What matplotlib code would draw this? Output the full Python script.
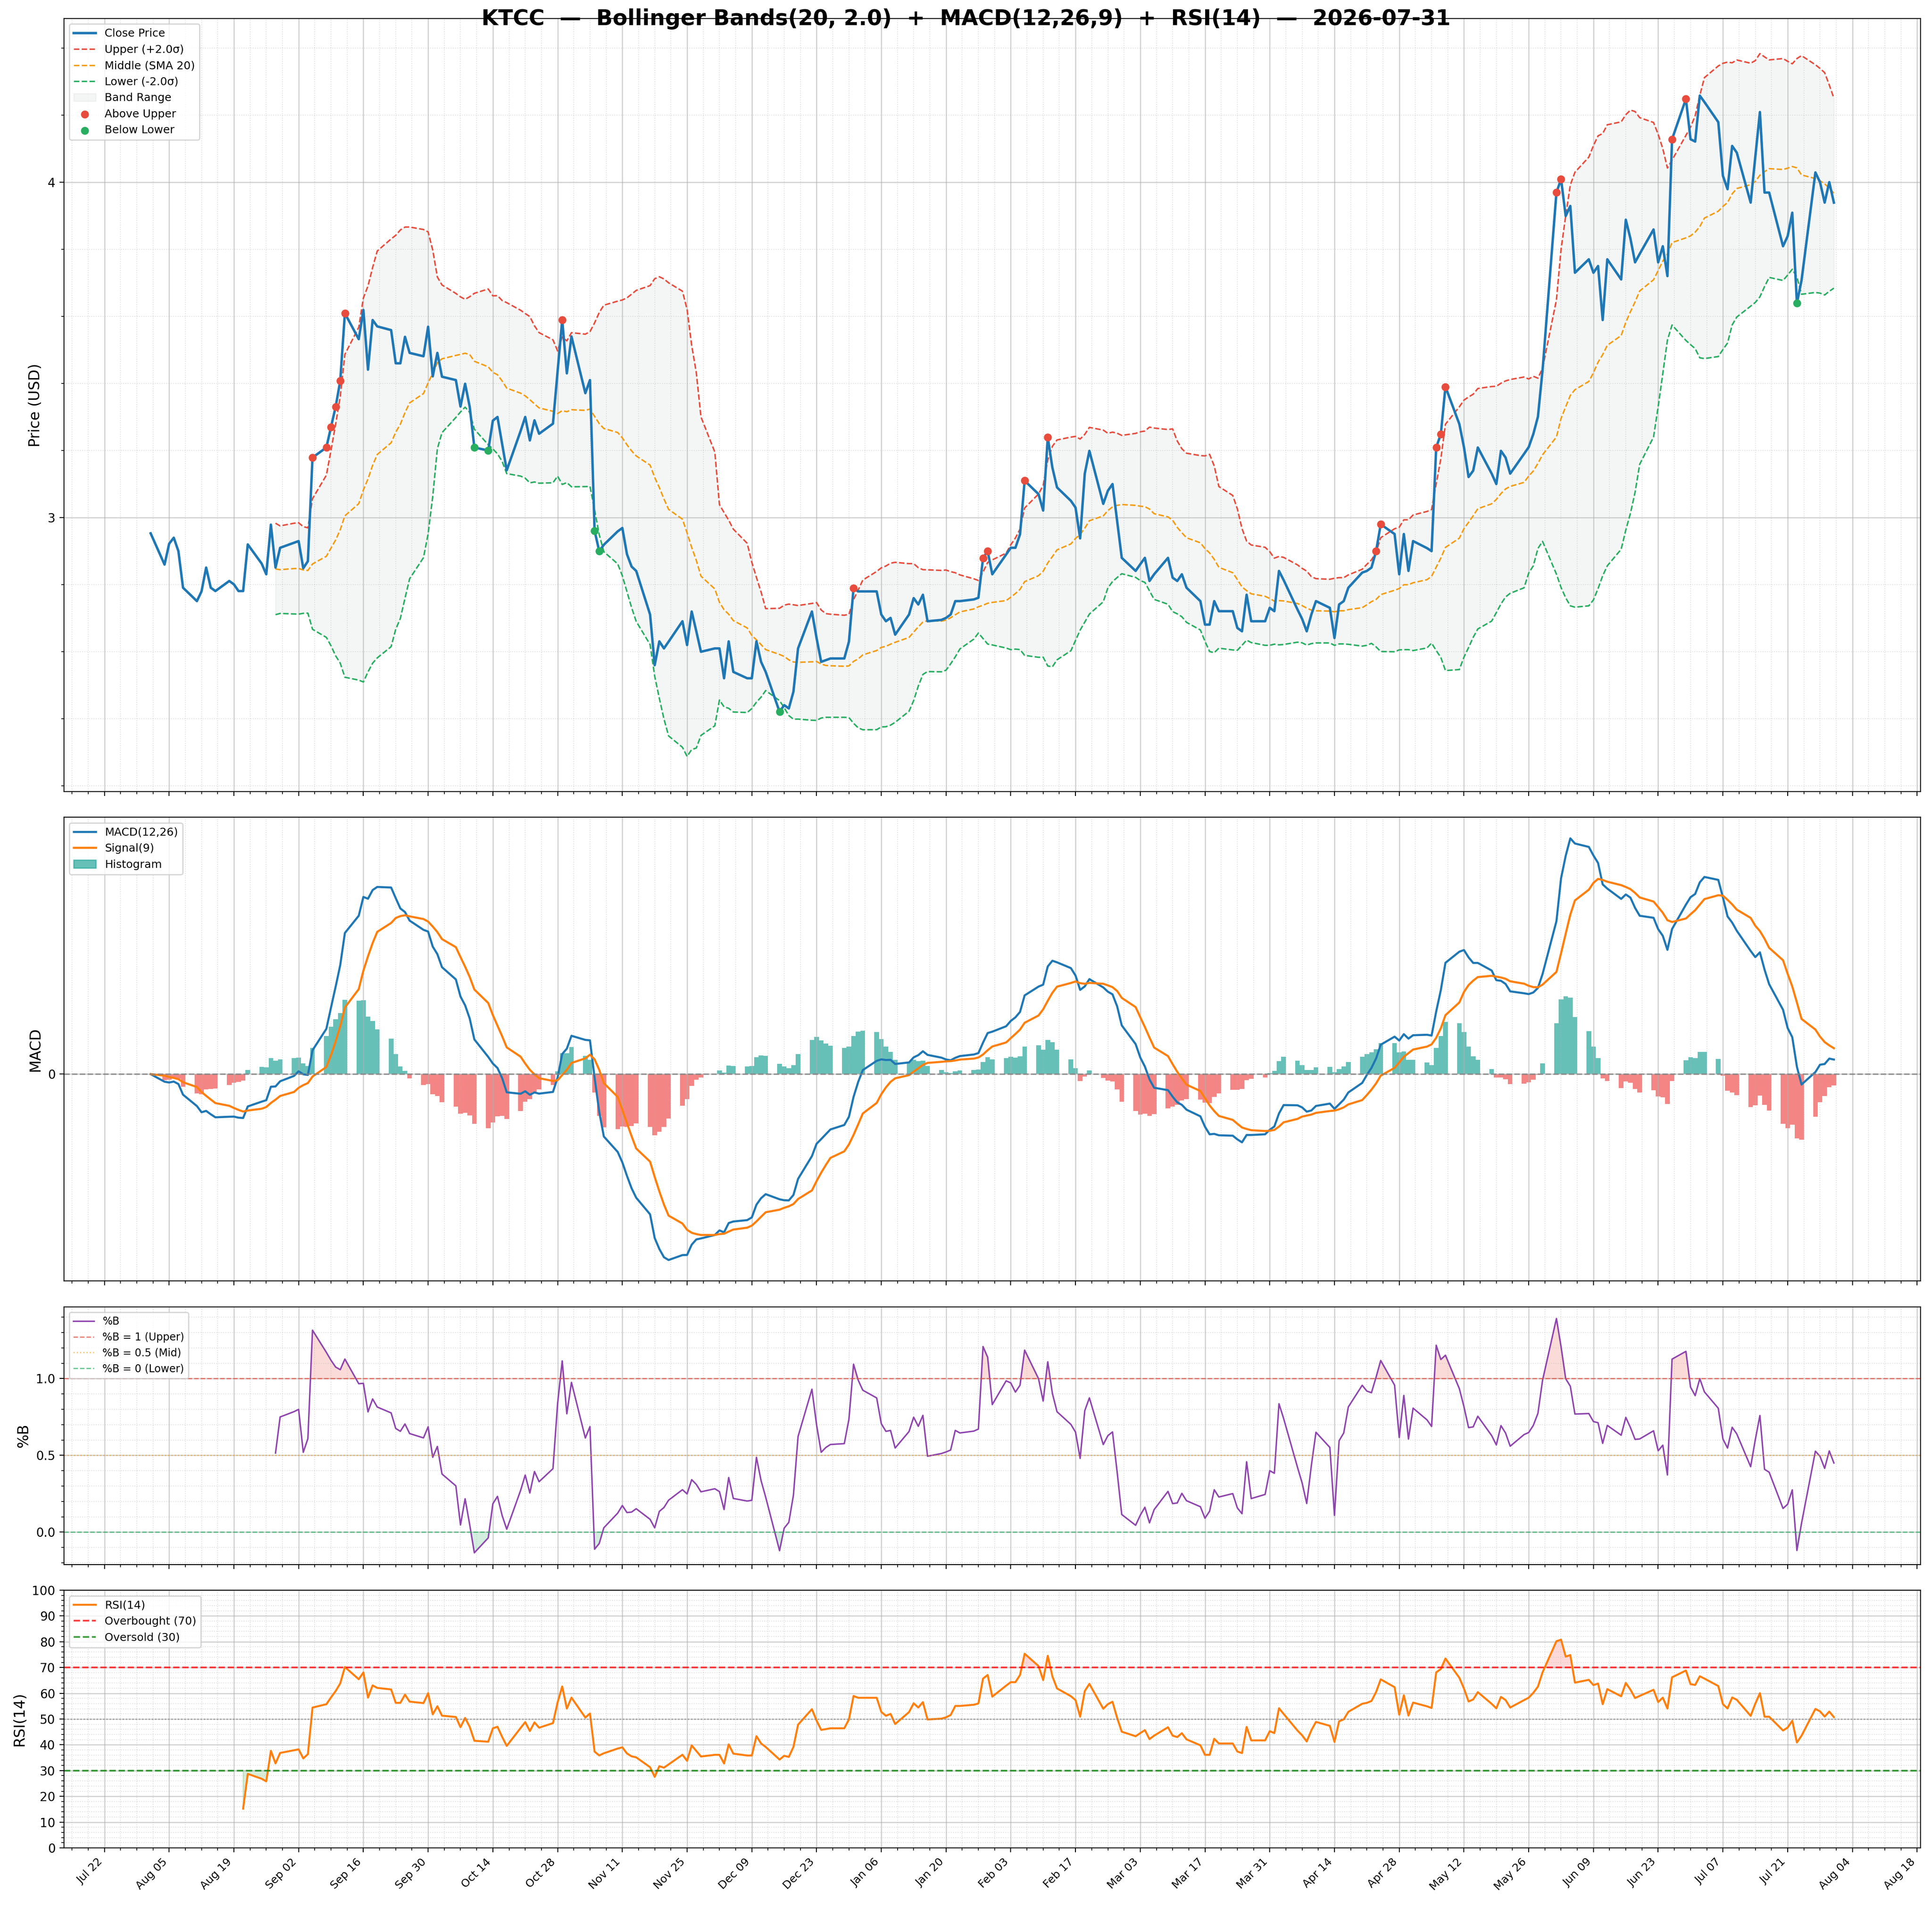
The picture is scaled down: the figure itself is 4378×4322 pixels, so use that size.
import matplotlib
matplotlib.use("Agg")
import matplotlib.pyplot as plt
import matplotlib.dates as mdates
from matplotlib.ticker import MultipleLocator, AutoMinorLocator, FixedLocator, NullLocator
from matplotlib.lines import Line2D
from matplotlib.patches import Patch
import numpy as np
import pandas as pd

# --- chart settings -------------------------------------------------------
TICKER = "KTCC"
AS_OF = "2026-07-31"
BB_WINDOW = 20
BB_K = 2.0

# daily closes (business days 2025-08-01 .. 2026-07-31)
close_prices = [
    # Aug 2025
    2.953, 2.860, 2.922, 2.940, 2.900, 2.791, 2.751, 2.780, 2.851, 2.791,
    2.781, 2.811, 2.801, 2.781, 2.781, 2.920, 2.863, 2.831, 2.979, 2.851,
    2.910,
    # Sep
    2.925, 2.930, 2.849, 2.870, 3.179, 3.209, 3.270, 3.330, 3.408, 3.609,
    3.532, 3.619, 3.441, 3.589, 3.570, 3.559, 3.460, 3.460, 3.539, 3.491,
    3.481, 3.569,
    # Oct
    3.421, 3.491, 3.420, 3.410, 3.331, 3.399, 3.330, 3.209, 3.200, 3.289,
    3.300, 3.220, 3.141, 3.258, 3.300, 3.230, 3.290, 3.250, 3.280, 3.436,
    3.589, 3.430, 3.540,
    # Nov
    3.371, 3.410, 2.961, 2.900, 2.919, 2.959, 2.969, 2.891, 2.854, 2.841,
    2.711, 2.560, 2.631, 2.610, 2.630, 2.691, 2.620, 2.720, 2.661, 2.600,
    # Dec
    2.610, 2.610, 2.521, 2.631, 2.540, 2.521, 2.521, 2.631, 2.570, 2.540,
    2.421, 2.441, 2.431, 2.481, 2.610, 2.720, 2.641, 2.570, 2.575, 2.580,
    2.580, 2.630, 2.790,
    # Jan 2026
    2.780, 2.780, 2.780, 2.711, 2.691, 2.701, 2.651, 2.711, 2.760, 2.741,
    2.770, 2.691, 2.695, 2.701, 2.711, 2.751, 2.751, 2.756, 2.761, 2.879,
    2.900, 2.831,
    # Feb
    2.890, 2.910, 2.910, 2.950, 3.110, 3.070, 3.021, 3.239, 3.149, 3.090,
    3.050, 3.030, 2.938, 3.131, 3.199, 3.041, 3.080, 3.100, 2.990, 2.880,
    # Mar
    2.841, 2.861, 2.880, 2.811, 2.831, 2.880, 2.821, 2.811, 2.831, 2.791,
    2.751, 2.681, 2.681, 2.751, 2.721, 2.721, 2.671, 2.661, 2.770, 2.691,
    2.691, 2.731,
    # Apr
    2.721, 2.841, 2.814, 2.726, 2.698, 2.661, 2.711, 2.751, 2.731, 2.641,
    2.741, 2.751, 2.791, 2.836, 2.841, 2.851, 2.900, 2.980, 2.951, 2.831,
    2.951, 2.841,
    # May
    2.930, 2.909, 2.900, 3.209, 3.249, 3.390, 3.279, 3.210, 3.121, 3.140,
    3.209, 3.131, 3.100, 3.199, 3.179, 3.131, 3.190, 3.210, 3.249, 3.301,
    3.440,
    # Jun
    3.969, 4.009, 3.899, 3.929, 3.730, 3.770, 3.730, 3.750, 3.589, 3.770,
    3.710, 3.888, 3.832, 3.761, 3.786, 3.859, 3.761, 3.809, 3.720, 4.128,
    4.248, 4.128,
    # Jul
    4.121, 4.258, 4.239, 4.179, 4.019, 3.979, 4.108, 4.088, 3.939, 4.075,
    4.209, 3.969, 3.969, 3.809, 3.839, 3.909, 3.639, 3.707, 4.029, 4.000,
    3.939, 4.000, 3.939,
]
dates = pd.bdate_range("2025-08-01", "2026-07-31")
tick_dates = pd.date_range("2025-07-22", "2026-08-18", freq="14D")

# --- indicators -----------------------------------------------------------
close = pd.Series(close_prices, index=dates)
middle = close.rolling(BB_WINDOW).mean()
std = close.rolling(BB_WINDOW).std()
upper = middle + BB_K * std
lower = middle - BB_K * std
pct_b = (close - lower) / (upper - lower)

ema12 = close.ewm(span=12, adjust=False).mean()
ema26 = close.ewm(span=26, adjust=False).mean()
macd = ema12 - ema26
signal = macd.ewm(span=9, adjust=False).mean()
hist = macd - signal

delta = close.diff()
gain = delta.clip(lower=0)
loss = -delta.clip(upper=0)
avg_gain = gain.ewm(alpha=1 / 14, adjust=False, min_periods=14).mean()
avg_loss = loss.ewm(alpha=1 / 14, adjust=False, min_periods=14).mean()
rsi = 100 - 100 / (1 + avg_gain / avg_loss)

above = close > upper
below = close < lower

# --- figure ---------------------------------------------------------------
fig = plt.figure(figsize=(4378 / 200, 4322 / 200), dpi=200)
gs = fig.add_gridspec(4, 1, height_ratios=[3, 1.8, 1, 1],
                      left=0.0331, right=0.9941, top=0.9903, bottom=0.0310,
                      hspace=0.0587)
ax1 = fig.add_subplot(gs[0])
ax2 = fig.add_subplot(gs[1], sharex=ax1)
ax3 = fig.add_subplot(gs[2], sharex=ax1)
ax4 = fig.add_subplot(gs[3], sharex=ax1)

# 1. price + bands
ax1.fill_between(dates, lower, upper, color="#95a5a6", alpha=0.1, label="Band Range")
ax1.plot(dates, close, color="#1f77b4", lw=2.0, label="Close Price", zorder=4)
ax1.plot(dates, upper, color="#e74c3c", lw=1.2, ls="--", label="Upper (+2.0σ)")
ax1.plot(dates, middle, color="#f39c12", lw=1.2, ls="--", label="Middle (SMA 20)")
ax1.plot(dates, lower, color="#27ae60", lw=1.2, ls="--", label="Lower (-2.0σ)")
ax1.scatter(dates[above], close[above], color="#e74c3c", s=30, zorder=5, label="Above Upper")
ax1.scatter(dates[below], close[below], color="#27ae60", s=30, zorder=5, label="Below Lower")
ax1.set_ylabel("Price (USD)", fontsize=12)
ax1.yaxis.set_major_locator(MultipleLocator(1))
ax1.yaxis.set_minor_locator(AutoMinorLocator(5))
h, l = ax1.get_legend_handles_labels()
order = ["Close Price", "Upper (+2.0σ)", "Middle (SMA 20)", "Lower (-2.0σ)",
         "Band Range", "Above Upper", "Below Lower"]
hd = dict(zip(l, h))
ax1.legend([hd[k] for k in order], order, loc="upper left", fontsize=9)

# 2. MACD
bar_colors = np.where(hist >= 0, "#26a69a", "#ef5350")
ax2.bar(dates, hist, width=1.0, color=bar_colors, alpha=0.7, label="Histogram")
ax2.plot(dates, macd, color="#1f77b4", lw=1.7, label="MACD(12,26)")
ax2.plot(dates, signal, color="#ff7f0e", lw=1.7, label="Signal(9)")
ax2.axhline(0, color="gray", lw=1.2, ls="--", alpha=0.8)
ax2.set_ylabel("MACD", fontsize=12)
ax2.set_yticks([0])
ax2.set_yticklabels(["0"])
ax2.yaxis.set_minor_locator(NullLocator())
ax2.legend(handles=[Line2D([], [], color="#1f77b4", lw=1.7),
                    Line2D([], [], color="#ff7f0e", lw=1.7),
                    Patch(color="#26a69a", alpha=0.7)],
           labels=["MACD(12,26)", "Signal(9)", "Histogram"],
           loc="upper left", fontsize=9)

# 3. %B
ax3.plot(dates, pct_b, color="#8e44ad", lw=1.2, label="%B")
ax3.axhline(1, color="#e74c3c", lw=1, ls="--", alpha=0.7, label="%B = 1 (Upper)")
ax3.axhline(0.5, color="#f39c12", lw=1, ls=":", alpha=0.6, label="%B = 0.5 (Mid)")
ax3.axhline(0, color="#27ae60", lw=1, ls="--", alpha=0.7, label="%B = 0 (Lower)")
ax3.fill_between(dates, pct_b, 1, where=pct_b > 1, interpolate=True,
                 color="#e74c3c", alpha=0.2)
ax3.fill_between(dates, pct_b, 0, where=pct_b < 0, interpolate=True,
                 color="#27ae60", alpha=0.2)
ax3.set_ylabel("%B", fontsize=12)
ax3.yaxis.set_major_locator(MultipleLocator(0.5))
ax3.yaxis.set_minor_locator(AutoMinorLocator(5))
ax3.legend(loc="upper left", fontsize=8.5)

# 4. RSI
ax4.plot(dates, rsi, color="#ff7f0e", lw=1.6, label="RSI(14)")
ax4.axhline(70, color="red", lw=1.4, ls="--", alpha=0.75, label="Overbought (70)")
ax4.axhline(30, color="green", lw=1.4, ls="--", alpha=0.75, label="Oversold (30)")
ax4.axhline(50, color="gray", lw=1, ls=":", alpha=0.7)
ax4.fill_between(dates, rsi, 70, where=rsi > 70, interpolate=True, color="red", alpha=0.15)
ax4.fill_between(dates, rsi, 30, where=rsi < 30, interpolate=True, color="green", alpha=0.15)
ax4.set_ylim(0, 100)
ax4.set_yticks(range(0, 101, 10))
ax4.yaxis.set_minor_locator(AutoMinorLocator(5))
ax4.set_ylabel("RSI(14)", fontsize=12)
ax4.legend(loc="upper left", fontsize=9)

# shared x axis + grids
ax4.xaxis.set_major_locator(FixedLocator(mdates.date2num(tick_dates)))
ax4.xaxis.set_major_formatter(mdates.DateFormatter("%b %d"))
ax4.xaxis.set_minor_locator(AutoMinorLocator())
for ax in (ax1, ax2, ax3, ax4):
    ax.grid(True, which="major", color="#b0b0b0", alpha=0.6, lw=0.9)
    ax.grid(True, which="minor", color="#b0b0b0", alpha=0.4, lw=0.7, ls=":")
    ax.tick_params(axis="y", labelsize=10)
for ax in (ax1, ax2, ax3):
    ax.tick_params(labelbottom=False)
plt.setp(ax4.get_xticklabels(), rotation=45, ha="right", fontsize=9)

title = (f"{TICKER}  —  Bollinger Bands({BB_WINDOW}, {BB_K})  +  MACD(12,26,9)"
         f"  +  RSI(14)  —  {AS_OF}")
fig.text(0.5, 0.990, title, ha="center", va="center", fontsize=17.6, fontweight="bold")

fig.savefig("out.png", dpi=200)
